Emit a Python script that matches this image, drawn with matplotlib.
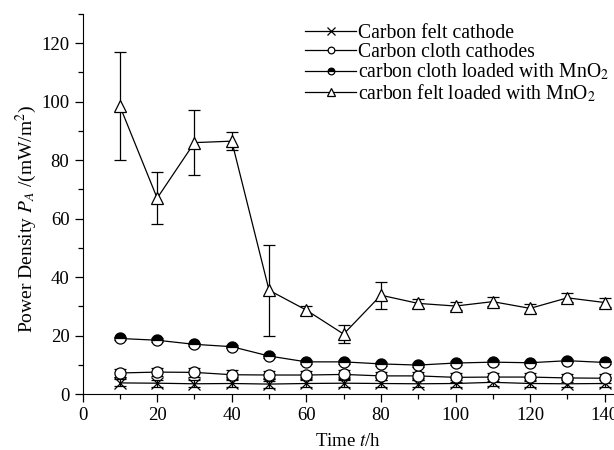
import matplotlib
matplotlib.use("Agg")
import matplotlib.pyplot as plt
from matplotlib.ticker import MultipleLocator
from matplotlib.container import ErrorbarContainer

plt.rcParams['font.family'] = ['Liberation Serif', 'DejaVu Serif']
plt.rcParams['mathtext.fontset'] = 'stix'

time_h = [10, 20, 30, 40, 50, 60, 70, 80, 90, 100, 110, 120, 130, 140]

felt = [3.8, 3.7, 3.5, 3.6, 3.4, 3.6, 3.7, 3.6, 3.5, 3.6, 4.0, 3.6, 3.5, 3.6]
felt_err = [1.2] * 14

cloth = [7.2, 7.5, 7.4, 6.6, 6.5, 6.5, 6.7, 6.2, 6.2, 5.7, 5.8, 5.8, 5.5, 5.4]
cloth_err = [1.5] * 14

cloth_mno2 = [19.0, 18.4, 17.0, 16.2, 13.0, 11.0, 11.0, 10.3, 9.9, 10.6, 10.9, 10.7, 11.4, 10.8]
cloth_mno2_err = [0.6] * 14

felt_mno2 = [98.5, 67.0, 86.0, 86.5, 35.5, 28.7, 20.5, 33.8, 31.0, 30.1, 31.6, 29.3, 32.9, 31.3]
felt_mno2_err = [18.5, 9.0, 11.0, 3.0, 15.5, 1.5, 3.0, 4.6, 1.5, 1.5, 1.5, 1.5, 1.5, 1.5]

labels = ["Carbon felt cathode", "Carbon cloth cathodes",
          "carbon cloth loaded with MnO$_2$", "carbon felt loaded with MnO$_2$"]

fig = plt.figure(figsize=(6.14, 4.5), dpi=100)
ax = fig.add_axes([0.1345, 0.1244, 0.8655, 0.8445])

common = dict(color='black', lw=0.9, elinewidth=0.9, capsize=4, capthick=0.9)

ax.errorbar(time_h, felt, yerr=felt_err, marker='x', ms=9, mew=0.9,
            label=labels[0], **common)
ax.errorbar(time_h, cloth, yerr=cloth_err, marker='o', ms=8, mfc='white', mec='black',
            mew=0.9, label=labels[1], **common)
ax.errorbar(time_h, cloth_mno2, yerr=cloth_mno2_err, marker='o', ms=8, fillstyle='top',
            mfc='black', mfcalt='white', mec='black', mew=0.9, label=labels[2], **common)
ax.errorbar(time_h, felt_mno2, yerr=felt_mno2_err, marker='^', ms=9, mfc='white', mec='black',
            mew=0.9, label=labels[3], **common)

ax.set_xlim(0, 142.5)
ax.set_ylim(0, 130)
ax.xaxis.set_major_locator(MultipleLocator(20))
ax.xaxis.set_minor_locator(MultipleLocator(10))
ax.yaxis.set_major_locator(MultipleLocator(20))
ax.yaxis.set_minor_locator(MultipleLocator(10))
ax.spines['top'].set_visible(False)
ax.spines['right'].set_visible(False)
ax.tick_params(which='both', direction='out', labelsize=13.5, width=0.9)
ax.tick_params(which='major', length=6)
ax.tick_params(which='minor', length=3.5)

ax.set_xlabel("Time $t$/h", fontsize=13.5, labelpad=6)
ax.set_ylabel("Power Density $P_A$ /(mW/m$^2$)", fontsize=14)
ax.yaxis.set_label_coords(-0.082, 0.46)

handles, labs = ax.get_legend_handles_labels()
handles = [h[0] if isinstance(h, ErrorbarContainer) else h for h in handles]
leg = ax.legend(handles, labs, loc='upper left', bbox_to_anchor=(0.40, 1.0),
                frameon=False, fontsize=14.2, markerscale=0.6,
                handlelength=2.6, handletextpad=0.1, labelspacing=0.0, borderaxespad=0.1)

fig.savefig("out.png", dpi=100)
